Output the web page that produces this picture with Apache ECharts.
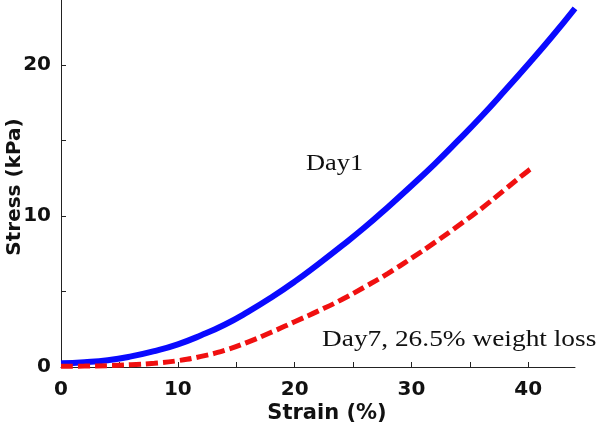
<!DOCTYPE html>
<html>
<head>
<meta charset="utf-8">
<script src="https://cdn.jsdelivr.net/npm/echarts@6/dist/echarts.min.js"></script>
<style>
html,body{margin:0;padding:0;background:#fff;}
#main{width:600px;height:427px;}
</style>
</head>
<body>
<div id="main"></div>
<script>
// Data
const strainDay1 = [0,2,4,6,8,10,12,14,16,18,20,22,24,26,28,30,32,34,36,38,40,42,44];
const stressDay1 = [0.25,0.32,0.45,0.7,1.05,1.5,2.1,2.8,3.65,4.6,5.65,6.8,8.0,9.25,10.6,12.0,13.45,15.0,16.6,18.3,20.05,21.85,23.75];
const strainDay7 = [0,2,4,6,8,10,12,14,16,18,20,22,24,26,28,30,32,34,36,38,40,40.4];
const stressDay7 = [0.05,0.06,0.09,0.15,0.25,0.42,0.7,1.1,1.65,2.3,3.0,3.7,4.45,5.3,6.2,7.2,8.25,9.35,10.5,11.75,13.0,13.2];
const xTicks = [0,5,10,15,20,25,30,35,40];
const xLabels = [0,10,20,30,40];
const yTicks = [0,5,10,15,20];
const yLabels = [0,10,20];
const labelDay1 = 'Day1';
const labelDay7 = 'Day7, 26.5% weight loss';
const xName = 'Strain (%)';
const yName = 'Stress (kPa)';

const chart = echarts.init(document.getElementById('main'));
const axisFont = {fontFamily:'"DejaVu Sans", sans-serif', fontWeight:'bold', fontSize:20, color:'#111'};
chart.setOption({
  animation:false,
  backgroundColor:'#fff',
  grid:{left:61, right:25, top:0, bottom:60, containLabel:false, outerBoundsMode:'none'},
  xAxis:{
    type:'value', min:0, max:44,
    name:xName, nameLocation:'middle', nameGap:36, nameMoveOverlap:false,
    nameTextStyle:Object.assign({}, axisFont, {fontSize:21, padding:[0,0,0,18]}),
    axisLine:{show:true, lineStyle:{color:'#222', width:1}},
    axisTick:{show:true, inside:true, length:5, customValues:xTicks, lineStyle:{color:'#222'}},
    axisLabel:Object.assign({customValues:xLabels, margin:13}, axisFont),
    splitLine:{show:false}
  },
  yAxis:{
    type:'value', min:0, max:24.3,
    name:yName, nameLocation:'middle', nameGap:36, nameMoveOverlap:false,
    nameTextStyle:Object.assign({}, axisFont, {fontSize:20, padding:[0,7,0,0]}),
    axisLine:{show:true, lineStyle:{color:'#222', width:1}},
    axisTick:{show:true, inside:true, length:5, customValues:yTicks, lineStyle:{color:'#222'}},
    axisLabel:Object.assign({customValues:yLabels, margin:10}, axisFont),
    splitLine:{show:false}
  },
  series:[
    {
      type:'line', name:'Day1', symbol:'none', smooth:true, clip:false,
      data:strainDay1.map((x,i)=>[x, stressDay1[i]]),
      lineStyle:{color:'#0a0aff', width:6}
    },
    {
      type:'line', name:'Day7', symbol:'none', smooth:true, clip:false,
      data:strainDay7.map((x,i)=>[x, stressDay7[i]]),
      lineStyle:{color:'#f01010', width:5, type:[12,5]}
    }
  ],
  graphic:[
    {type:'text', x:306, y:152, scaleX:1.1, style:{text:labelDay1, font:'24px "Liberation Serif", "Times New Roman", serif', fill:'#111'}},
    {type:'text', x:322, y:328, scaleX:1.14, style:{text:labelDay7, font:'24px "Liberation Serif", "Times New Roman", serif', fill:'#111'}}
  ]
});
</script>
</body>
</html>
